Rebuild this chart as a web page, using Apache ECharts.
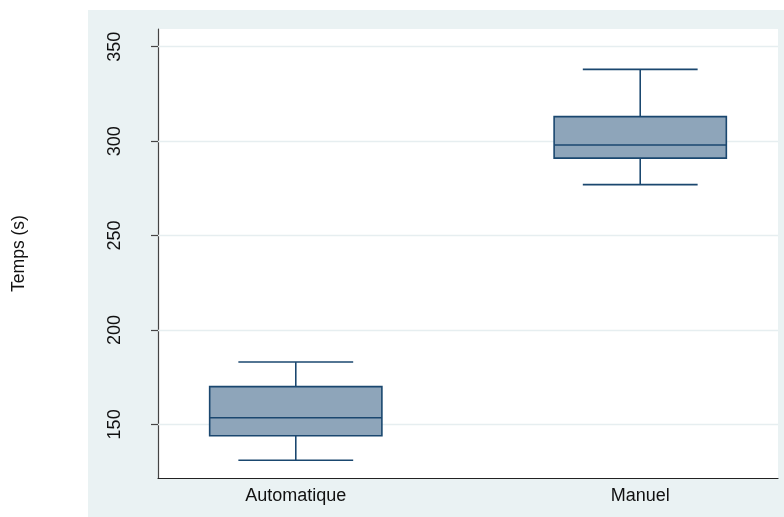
<!DOCTYPE html>
<html>
<head>
<meta charset="utf-8">
<script src="https://cdn.jsdelivr.net/npm/echarts@6/dist/echarts.min.js"></script>
<style>
  html, body { margin: 0; padding: 0; background: #fff; }
  #chart { width: 784px; height: 517px; }
</style>
</head>
<body>
<div id="chart"></div>
<script>
// Groups and their five-number summaries (seconds)
const categories = ['Automatique', 'Manuel'];
const lowerWhisker = [131, 277];
const q1 = [144, 291];
const median = [153.5, 298];
const q3 = [170, 313];
const upperWhisker = [183, 338];
const yTicks = [150, 200, 250, 300, 350];
const yTitle = 'Temps (s)';

const boxFill = '#8EA5BA';
const boxLine = '#1A476F';
const bgPanel = '#EAF2F3';
const font = 'Liberation Sans, Arial, sans-serif';

const positions = categories.map((_, i) => i + 1);
const boxData = categories.map((_, i) => [
  positions[i], lowerWhisker[i], q1[i], median[i], q3[i], upperWhisker[i]
]);

const chart = echarts.init(document.getElementById('chart'));

// One box: whiskers with caps, interquartile box and median line
function renderBox(params, api) {
  const x = api.value(0);
  const lo = api.coord([x, api.value(1)]);
  const b1 = api.coord([x, api.value(2)]);
  const md = api.coord([x, api.value(3)]);
  const b3 = api.coord([x, api.value(4)]);
  const hi = api.coord([x, api.value(5)]);
  const boxW = api.size([0.5, 0])[0];
  const capW = api.size([1 / 3, 0])[0];
  const cx = lo[0];
  const ls = { stroke: boxLine, lineWidth: 1.6, fill: null };
  return {
    type: 'group',
    children: [
      { type: 'line', shape: { x1: cx, y1: b3[1], x2: cx, y2: hi[1] }, style: ls },
      { type: 'line', shape: { x1: cx, y1: b1[1], x2: cx, y2: lo[1] }, style: ls },
      { type: 'line', shape: { x1: cx - capW / 2, y1: hi[1], x2: cx + capW / 2, y2: hi[1] }, style: ls },
      { type: 'line', shape: { x1: cx - capW / 2, y1: lo[1], x2: cx + capW / 2, y2: lo[1] }, style: ls },
      { type: 'rect', shape: { x: cx - boxW / 2, y: b3[1], width: boxW, height: b1[1] - b3[1] },
        style: { fill: boxFill, stroke: boxLine, lineWidth: 1.6 } },
      { type: 'line', shape: { x1: cx - boxW / 2, y1: md[1], x2: cx + boxW / 2, y2: md[1] }, style: ls }
    ]
  };
}

chart.setOption({
  backgroundColor: '#ffffff',
  animation: false,
  graphic: [{
    type: 'rect', z: -10, silent: true,
    shape: { x: 88, y: 10, width: 700, height: 510 },
    style: { fill: bgPanel }
  }],
  grid: {
    left: 158, top: 29, right: 6, bottom: 39,
    show: true, backgroundColor: '#ffffff', borderWidth: 0
  },
  xAxis: {
    type: 'value', min: 0.6, max: 2.4,
    axisLine: { show: true, onZero: false, lineStyle: { color: '#222', width: 1.2 } },
    axisTick: { show: false },
    splitLine: { show: false },
    axisLabel: {
      customValues: positions,
      formatter: v => categories[Math.round(v) - 1] || '',
      color: '#111', fontFamily: font, fontSize: 18, margin: 9
    }
  },
  yAxis: {
    type: 'value', min: 121.6, max: 359.4,
    name: yTitle, nameLocation: 'middle', nameGap: 130, nameRotate: 90,
    nameTextStyle: { color: '#111', fontFamily: font, fontSize: 17.5 },
    axisLine: { show: true, lineStyle: { color: '#444', width: 1.2 } },
    axisTick: { show: true, customValues: yTicks, length: 7, lineStyle: { color: '#444', width: 1.2 } },
    axisLabel: {
      customValues: yTicks, rotate: 90, margin: 34,
      color: '#111', fontFamily: font, fontSize: 18
    },
    splitLine: { show: false }
  },
  series: [{
    type: 'custom',
    renderItem: renderBox,
    data: boxData,
    encode: { x: 0, y: [1, 2, 3, 4, 5] },
    z: 3,
    markLine: {
      silent: true, symbol: 'none', z: 1,
      label: { show: false },
      lineStyle: { color: '#E6EEF0', width: 1.4, type: 'solid' },
      data: yTicks.map(v => ({ yAxis: v }))
    }
  }]
});
</script>
</body>
</html>
